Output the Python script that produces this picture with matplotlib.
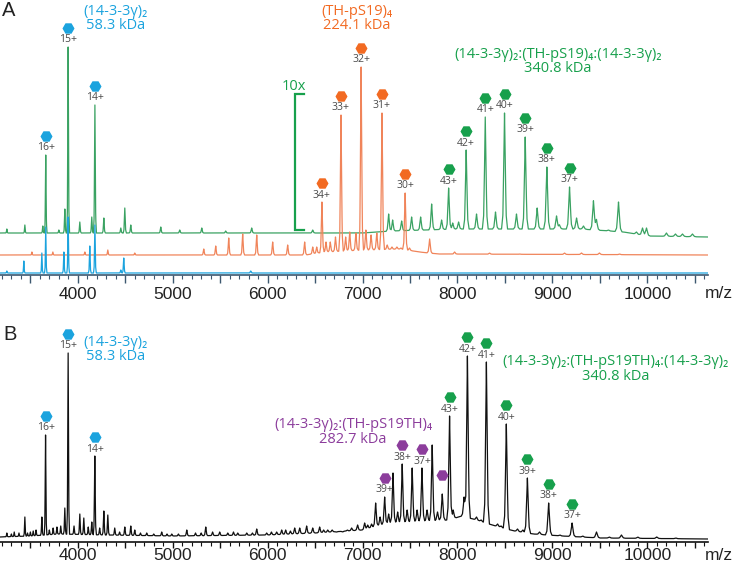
import numpy as np
import matplotlib
matplotlib.use("Agg")
import matplotlib.pyplot as plt
from matplotlib.ticker import MultipleLocator, FuncFormatter

# ---------------- data ----------------
# heights are in px above the x axis of each panel (panel A: 275 tall, panel B: 242 tall)

# panel A, green trace (14-3-3γ + TH-pS19, 10x)
green_a_mz = [3252, 3442, 3631, 3662, 3800, 3863, 3898, 4021, 4147, 4180, 4274, 4453,
              4495, 4558, 4874, 5074, 5306, 5558, 5832, 6475, 7275, 7317, 7412, 7517,
              7612, 7728, 7833, 7907, 7950, 8012, 8092, 8201, 8293, 8401, 8496, 8622,
              8714, 8840, 8942, 9044, 9075, 9181, 9255, 9328, 9433, 9465, 9591, 9697,
              9886, 9950, 9992, 10202, 10297, 10371, 10476]
green_a_top = [46, 50, 49, 120, 45, 66, 228, 53, 58, 170, 57, 47,
               67, 50, 48, 45, 47, 44, 47, 45, 61, 55, 54, 58,
               58, 71, 55, 87, 52, 53, 125, 61, 158, 63, 162, 61,
               138, 67, 108, 59, 50, 88, 57, 49, 74, 55, 45, 73,
               43, 47, 47, 42, 41, 41, 41]
green_a_base_mz = [3180, 7000, 7300, 8000, 8700, 9300, 9750, 10000, 10640]
green_a_base_h = [42, 42, 44, 46, 46, 46, 43, 39, 38]

# panel A, orange trace (TH-pS19)
orange_a_mz = [3516, 3737, 4074, 4316, 4600, 5327, 5453, 5590, 5737, 5885, 6053, 6211,
               6390, 6475, 6517, 6572, 6615, 6660, 6715, 6773, 6822, 6865, 6930, 6985,
               7035, 7090, 7150, 7205, 7260, 7310, 7362, 7405, 7449, 7495, 7707, 7970,
               8338, 8654, 9128, 9307, 9496, 9707]
orange_a_top = [23, 23, 23, 25, 22, 26, 29, 37, 41, 40, 33, 30,
                33, 28, 28, 73, 33, 33, 38, 160, 38, 43, 42, 208,
                45, 40, 42, 162, 30, 28, 28, 27, 82, 27, 36, 23,
                22, 21, 22, 22, 22, 21]
orange_a_base_mz = [3180, 6400, 6600, 7000, 7400, 7600, 7800, 10640]
orange_a_base_h = [20, 20, 23, 25, 26, 23, 21, 20]

# panel A, blue trace (14-3-3γ)
blue_a_mz = [3252, 3431, 3621, 3662, 3853, 3898, 4126, 4180, 4453, 4484, 5822]
blue_a_top = [4, 14, 22, 48, 23, 58, 29, 50, 5, 17, 4]
blue_a_base_mz = [3180, 10640]
blue_a_base_h = [2, 2]

# panel B, black trace
black_b_mz = [3252, 3300, 3330, 3380, 3442, 3470, 3500, 3530, 3560, 3621, 3660, 3700,
              3740, 3780, 3820, 3863, 3898, 3960, 4021, 4063, 4110, 4147, 4179, 4230,
              4274, 4316, 4389, 4440, 4495, 4558, 4600, 4660, 4726, 4800, 4884, 4940,
              4990, 5060, 5148, 5240, 5300, 5348, 5420, 5495, 5580, 5640, 5685, 5780,
              5840, 5885, 5990, 6040, 6095, 6148, 6190, 6240, 6285, 6338, 6411, 6475,
              6548, 6590, 6633, 6680, 6727, 6790, 6840, 6885, 6948, 7022, 7054, 7095,
              7138, 7185, 7233, 7275, 7321, 7370, 7418, 7470, 7523, 7575, 7626, 7680,
              7734, 7790, 7840, 7917, 7955, 8070, 8105, 8201, 8250, 8305, 8423, 8460,
              8515, 8633, 8690, 8737, 8865, 8961, 9080, 9208, 9320, 9465, 9600, 9728,
              9900, 10100, 10300]
black_b_top = [9, 8, 10, 9, 25, 9, 10, 11, 12, 25, 107, 12,
               14, 15, 16, 34, 189, 16, 28, 24, 15, 20, 86, 14,
               31, 27, 14, 10, 15, 16, 12, 9, 9, 8, 10, 8,
               8, 8, 12, 9, 9, 15, 10, 10, 9, 10, 9, 9,
               9, 13, 9, 10, 10, 12, 12, 11, 14, 14, 16, 14,
               15, 12, 12, 12, 10, 10, 12, 14, 17, 19, 17, 18,
               39, 25, 45, 28, 69, 30, 78, 32, 74, 32, 74, 32,
               97, 30, 48, 126, 32, 45, 186, 25, 22, 180, 18, 16,
               118, 13, 12, 64, 10, 39, 7, 19, 6, 10, 5, 7,
               5, 5, 4]
black_b_base_mz = [3180, 3500, 3800, 4300, 5000, 6000, 6500, 7000, 7150, 7300, 7900,
                   8050, 8200, 8400, 8600, 8800, 9100, 9500, 10640]
black_b_base_h = [5, 6, 8, 7, 6, 7, 9, 12, 16, 19, 22, 26, 22, 16, 11, 8, 6, 4, 3]

# charge-state labels: (m/z of the peak, label)
blue_a_labels = [(3662, "16+"), (3898, "15+"), (4180, "14+")]
orange_a_labels = [(6572, "34+"), (6773, "33+"), (6985, "32+"), (7205, "31+"), (7449, "30+")]
green_a_labels = [(7907, "43+"), (8092, "42+"), (8293, "41+"), (8496, "40+"),
                  (8714, "39+"), (8942, "38+"), (9181, "37+")]
blue_b_labels = [(3660, "16+"), (3898, "15+"), (4179, "14+")]
purple_b_labels = [(7233, "39+"), (7418, "38+"), (7626, "37+"), (7840, "")]
green_b_labels = [(7917, "43+"), (8105, "42+"), (8305, "41+"), (8515, "40+"),
                  (8737, "39+"), (8961, "38+"), (9208, "37+")]

# colours
C_GREEN_LINE = "#3aa262"
C_GREEN = "#17a04c"
C_ORANGE_LINE = "#f0845a"
C_ORANGE = "#f26a22"
C_BLUE = "#1ba3de"
C_PURPLE = "#8c3d9c"
C_LABEL = "#4a4a4a"

TXT = ["Open Sans", "DejaVu Sans"]
NUM = "Liberation Sans"

# ---------------- building the traces ----------------
all_mz = np.concatenate([green_a_mz, orange_a_mz, blue_a_mz, black_b_mz])
grid = np.union1d(np.arange(3180, 10641, 1.0), all_mz)
shape_x = np.array([-1, -0.55, -0.25, 0, 0.25, 0.55, 1])
shape_y = np.array([0, 0.12, 0.55, 1, 0.55, 0.12, 0])


def trace(mz, top, base_mz, base_h, res):
    y = np.interp(grid, base_mz, base_h)
    for m, t in zip(mz, top):
        w = m * res
        amp = t - np.interp(m, base_mz, base_h)
        y = y + amp * np.interp(grid, m + shape_x * w, shape_y, left=0, right=0)
    return y


green_a = trace(green_a_mz, green_a_top, green_a_base_mz, green_a_base_h, 0.0037)
orange_a = trace(orange_a_mz, orange_a_top, orange_a_base_mz, orange_a_base_h, 0.0035)
blue_a = trace(blue_a_mz, blue_a_top, blue_a_base_mz, blue_a_base_h, 0.0035)
black_b = trace(black_b_mz, black_b_top, black_b_base_mz, black_b_base_h, 0.0038)


def peak_top(y, m):
    sel = (grid > m - 20) & (grid < m + 20)
    return y[sel].max()


def mark(ax, y, labels, color):
    for m, lab in labels:
        t = peak_top(y, m)
        ax.plot(m, t + 19, marker="H", ms=7.5, color=color, mec=color, clip_on=False, zorder=6)
        if lab:
            ax.text(m, t + 7, lab, ha="center", va="center", fontsize=7.5,
                    color=C_LABEL, family=TXT, zorder=6)


def style_axis(ax, ymax, axcol, pad, ticklen):
    ax.set_xlim(3180, 10640)
    ax.set_ylim(0, ymax)
    for s in ["left", "right", "top"]:
        ax.spines[s].set_visible(False)
    ax.spines["bottom"].set_color(axcol)
    ax.spines["bottom"].set_linewidth(1.2)
    ax.set_yticks([])
    ax.xaxis.set_major_locator(MultipleLocator(500))
    ax.xaxis.set_minor_locator(MultipleLocator(100))
    ax.xaxis.set_major_formatter(FuncFormatter(lambda v, p: f"{int(v)}" if v % 1000 == 0 else ""))
    ax.tick_params(axis="x", which="major", length=ticklen, width=1, color=axcol, pad=pad,
                   labelsize=12.5, labelcolor="#222222")
    ax.tick_params(axis="x", which="minor", length=3, width=0.8, color=axcol)
    for lab in ax.get_xticklabels():
        lab.set_fontfamily(NUM)
    ax.patch.set_alpha(0)


def name(ax, x, y, s, color):
    ax.text(x, y, s, ha="center", va="center", fontsize=10.5, color=color, family=TXT,
            linespacing=0.98)


W, H = 737, 563
fig = plt.figure(figsize=(W / 100, H / 100), dpi=100)

# ---------------- panel A ----------------
ax1 = fig.add_axes([0, 1 - 275 / H, 708 / W, 275 / H])
style_axis(ax1, 275, "#3d5870", 3, 5.5)
ax1.plot(grid, green_a, color=C_GREEN_LINE, lw=0.9, zorder=2)
ax1.plot(grid, orange_a, color=C_ORANGE_LINE, lw=0.9, zorder=3)
ax1.plot(grid, blue_a, color=C_BLUE, lw=0.9, zorder=4)
mark(ax1, green_a, blue_a_labels, C_BLUE)
mark(ax1, orange_a, orange_a_labels, C_ORANGE)
mark(ax1, green_a, green_a_labels, C_GREEN)

name(ax1, 4395, 256.5, "(14-3-3γ)₂\n58.3 kDa", C_BLUE)
name(ax1, 6938, 256.5, "(TH-pS19)₄\n224.1 kDa", C_ORANGE)
name(ax1, 9060, 213.5, "(14-3-3γ)₂:(TH-pS19)₄:(14-3-3γ)₂\n340.8 kDa", C_GREEN)

# 10x bracket
ax1.text(6274, 189, "10x", ha="center", va="center", fontsize=10.5, color=C_GREEN, family=TXT)
ax1.plot([6380, 6285, 6285, 6380], [181, 181, 45, 45], color=C_GREEN, lw=1.6,
         solid_joinstyle="miter")

# ---------------- panel B ----------------
ax2 = fig.add_axes([0, 1 - 542 / H, 708 / W, 242 / H])
style_axis(ax2, 242, "#111111", 0, 4.5)
ax2.plot(grid, black_b, color="#111111", lw=0.9, zorder=3)
mark(ax2, black_b, blue_b_labels, C_BLUE)
mark(ax2, black_b, purple_b_labels, C_PURPLE)
mark(ax2, black_b, green_b_labels, C_GREEN)

name(ax2, 4395, 192.5, "(14-3-3γ)₂\n58.3 kDa", C_BLUE)
name(ax2, 6900, 110, "(14-3-3γ)₂:(TH-pS19TH)₄\n282.7 kDa", C_PURPLE)
name(ax2, 9670, 173, "(14-3-3γ)₂:(TH-pS19TH)₄:(14-3-3γ)₂\n340.8 kDa", C_GREEN)

# panel letters and axis unit
fig.text(2 / W, 1 - 10 / H, "A", fontsize=14.5, va="center", ha="left", family=NUM, color="#222222")
fig.text(3 / W, 1 - 334 / H, "B", fontsize=14.5, va="center", ha="left", family=NUM, color="#222222")
fig.text(719 / W, 1 - 293 / H, "m/z", fontsize=12.5, va="center", ha="center", family=NUM, color="#222222")
fig.text(719 / W, 1 - 555 / H, "m/z", fontsize=12.5, va="center", ha="center", family=NUM, color="#222222")

fig.savefig("out.png", dpi=100)
